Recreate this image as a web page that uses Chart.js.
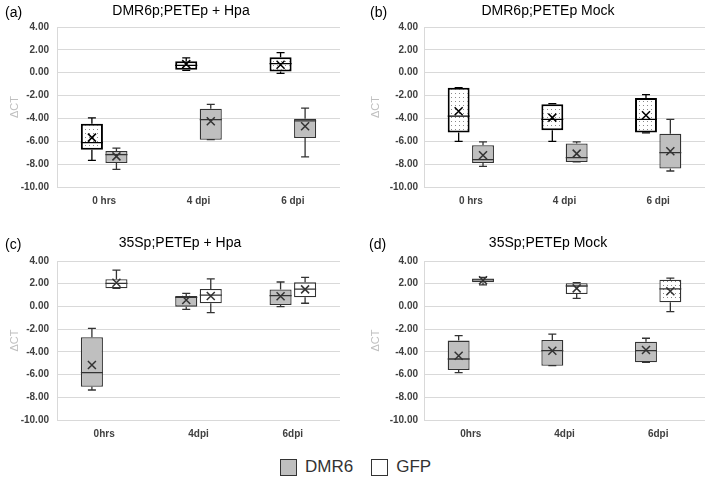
<!DOCTYPE html>
<html>
<head>
<meta charset="utf-8">
<script src="https://cdn.jsdelivr.net/npm/chart.js@4.4.1/dist/chart.umd.min.js"></script>
<style>
    body { margin: 0; background: #fff; width: 709px; height: 479px; position: relative; overflow: hidden; }
    canvas { position: absolute; }
    #legend { position: absolute; left: 280px; top: 457px; font: 17px 'Liberation Sans', Arial, sans-serif; color: #333; display: flex; align-items: center; }
    .sw { display: inline-block; width: 15px; height: 15px; border: 1.5px solid #333; margin-right: 8px; }
</style>
</head>
<body>
<canvas id="ca" width="350" height="212" style="left:0;top:0"></canvas>
<canvas id="cb" width="359" height="212" style="left:350px;top:0"></canvas>
<canvas id="cc" width="350" height="228" style="left:0;top:212px"></canvas>
<canvas id="cd" width="359" height="228" style="left:350px;top:212px"></canvas>
<div id="legend">
    <span class="sw" style="background:#bfbfbf"></span><span style="margin-right:18px">DMR6</span>
    <span class="sw" style="background:#fff"></span><span>GFP</span>
</div>
<script>
// each box: [min, q1, median, q3, max, mean]
const catsA = ['0 hrs', '4 dpi', '6 dpi'];
const catsC = ['0hrs', '4dpi', '6dpi'];

const aGfp = [[-7.67, -6.73, -6.12, -4.46, -3.96, -5.68], [0.2, 0.27, 0.65, 1.0, 1.3, 0.75], [-0.05, 0.1, 0.8, 1.35, 1.75, 0.7]];
const aDmr6 = [[-8.45, -7.9, -7.17, -6.85, -6.59, -7.32], [-5.86, -5.86, -4.1, -3.15, -2.77, -4.25], [-7.37, -5.71, -4.22, -4.02, -3.09, -4.69]];

const bGfp = [[-6.0, -5.24, -3.79, -1.31, -1.31, -3.38], [-6.0, -5.04, -4.08, -2.77, -2.7, -3.93], [-5.27, -5.24, -4.08, -2.21, -1.92, -3.73]];
const bDmr6 = [[-8.19, -7.9, -7.6, -6.35, -6.06, -7.23], [-7.81, -7.81, -7.43, -6.2, -6.06, -7.08], [-8.6, -8.39, -6.99, -5.33, -4.08, -6.88]];

const cDmr6 = [[-7.36, -7.07, -5.83, -2.72, -1.93, -5.16], [-0.26, -0.02, 0.8, 0.92, 1.15, 0.57], [-0.02, 0.13, 0.95, 1.5, 2.15, 0.9]];
const cGfp = [[1.6, 1.6, 2.03, 2.4, 3.2, 2.09], [-0.55, 0.27, 1.0, 1.53, 2.42, 0.92], [0.28, 0.8, 1.53, 2.12, 2.56, 1.5]];

const dDmr6 = [[-5.83, -5.6, -4.63, -3.01, -2.57, -4.34], [-5.22, -5.22, -3.9, -2.96, -2.43, -3.9], [-4.92, -4.92, -3.9, -3.1, -2.8, -3.84]];
const dGfp = [[1.89, 2.12, 2.33, 2.47, 2.56, 2.3], [0.71, 1.1, 1.8, 2.05, 2.1, 1.59], [-0.46, 0.36, 1.55, 2.35, 2.5, 1.33]];

const yMin = -10, yMax = 4, yStep = 2;

Chart.defaults.font.family = "'Liberation Sans', Arial, sans-serif";

// dotted fill
function dots() {
    const c = document.createElement('canvas');
    c.width = 4; c.height = 4;
    const g = c.getContext('2d');
    g.fillStyle = '#fff';
    g.fillRect(0, 0, 4, 4);
    g.fillStyle = '#8a8a8a';
    g.fillRect(1, 1, 1, 1);
    return g.createPattern(c, 'repeat');
}
const DOT = dots();
const GRAY = '#bfbfbf';

// whiskers, median and mean drawn on top of the floating bars
const boxPlugin = {
    id: 'boxes',
    afterDatasetsDraw(chart) {
        const ctx = chart.ctx;
        const y = v => chart.scales.y.getPixelForValue(v);
        chart.data.datasets.forEach((ds, di) => {
            const meta = chart.getDatasetMeta(di);
            meta.data.forEach((bar, i) => {
                const s = ds.stats[i];
                const x = bar.x, half = bar.width / 2;
                ctx.save();
                ctx.strokeStyle = ds.borderColor;
                ctx.lineWidth = 1.3;
                ctx.beginPath();
                ctx.moveTo(x, y(s[4])); ctx.lineTo(x, y(s[3]));
                ctx.moveTo(x, y(s[1])); ctx.lineTo(x, y(s[0]));
                ctx.moveTo(x - 4, y(s[4])); ctx.lineTo(x + 4, y(s[4]));
                ctx.moveTo(x - 4, y(s[0])); ctx.lineTo(x + 4, y(s[0]));
                ctx.moveTo(x - half, y(s[2])); ctx.lineTo(x + half, y(s[2]));
                ctx.stroke();
                const m = y(s[5]);
                ctx.lineWidth = 1.5;
                ctx.beginPath();
                ctx.moveTo(x - 4, m - 4); ctx.lineTo(x + 4, m + 4);
                ctx.moveTo(x + 4, m - 4); ctx.lineTo(x - 4, m + 4);
                ctx.stroke();
                ctx.restore();
            });
        });
    }
};

const textPlugin = {
    id: 'panelText',
    afterDraw(chart, args, o) {
        const ctx = chart.ctx;
        ctx.save();
        ctx.fillStyle = '#000';
        ctx.textBaseline = 'middle';
        ctx.font = "14px 'Liberation Sans', Arial, sans-serif";
        ctx.textAlign = 'left';
        ctx.fillText(o.letter, o.letterX, o.textY + 2);
        ctx.textAlign = 'center';
        ctx.fillText(o.title, o.titleX, o.textY);
        ctx.restore();
    }
};

function boxSet(label, stats, fill, border, bw) {
    return {
        label: label,
        data: stats.map(s => [s[1], s[3]]),
        stats: stats,
        backgroundColor: fill,
        borderColor: border,
        borderWidth: bw,
        borderSkipped: false,
        categoryPercentage: 0.52,
        barPercentage: 0.9
    };
}

function makeChart(id, labels, datasets, t) {
    new Chart(document.getElementById(id), {
        type: 'bar',
        data: { labels: labels, datasets: datasets },
        plugins: [boxPlugin, textPlugin],
        options: {
            responsive: false,
            animation: false,
            devicePixelRatio: 1,
            layout: { padding: { top: t.top, left: t.padLeft, right: t.padRight, bottom: 0 } },
            scales: {
                y: {
                    min: yMin,
                    max: yMax,
                    afterFit: s => { s.width = t.axisW; },
                    ticks: {
                        stepSize: yStep,
                        padding: t.tickPad,
                        color: '#404040',
                        font: { size: 10, weight: 'bold' },
                        callback: v => v.toFixed(2)
                    },
                    grid: { color: '#d9d9d9', drawTicks: false },
                    border: { display: true, color: '#d9d9d9' },
                    title: { display: true, text: 'ΔCT', color: '#bfbfbf', font: { size: 11 }, padding: 0 }
                },
                x: {
                    afterFit: s => { s.height = t.xH; },
                    ticks: { color: '#404040', font: { size: 10, weight: 'bold' }, padding: 0 },
                    grid: { display: false },
                    border: { display: false }
                }
            },
            plugins: {
                legend: { display: false },
                tooltip: { enabled: false },
                panelText: t
            }
        }
    });
}

makeChart('ca', catsA, [
    boxSet('GFP', aGfp, DOT, '#000', 2),
    boxSet('DMR6', aDmr6, GRAY, '#333', 1.3)
], { top: 27, padLeft: 8, padRight: 10, axisW: 49, tickPad: 8, xH: 25, letter: '(a)', letterX: 5, title: 'DMR6p;PETEp + Hpa', titleX: 181, textY: 11 });

makeChart('cb', catsA, [
    boxSet('GFP', bGfp, DOT, '#000', 2),
    boxSet('DMR6', bDmr6, GRAY, '#333', 1.3)
], { top: 27, padLeft: 19, padRight: 4, axisW: 55, tickPad: 6, xH: 25, letter: '(b)', letterX: 20, title: 'DMR6p;PETEp Mock', titleX: 198, textY: 11 });

makeChart('cc', catsC, [
    boxSet('DMR6', cDmr6, GRAY, '#333', 1.3),
    boxSet('GFP', cGfp, '#fff', '#333', 1.3)
], { top: 49, padLeft: 8, padRight: 10, axisW: 49, tickPad: 8, xH: 20, letter: '(c)', letterX: 5, title: '35Sp;PETEp + Hpa', titleX: 180, textY: 31 });

makeChart('cd', catsC, [
    boxSet('DMR6', dDmr6, GRAY, '#333', 1.3),
    boxSet('GFP', dGfp, ['#fff', '#fff', DOT], '#333', 1.3)
], { top: 49, padLeft: 19, padRight: 4, axisW: 55, tickPad: 6, xH: 20, letter: '(d)', letterX: 19, title: '35Sp;PETEp Mock', titleX: 198, textY: 31 });
</script>
</body>
</html>
